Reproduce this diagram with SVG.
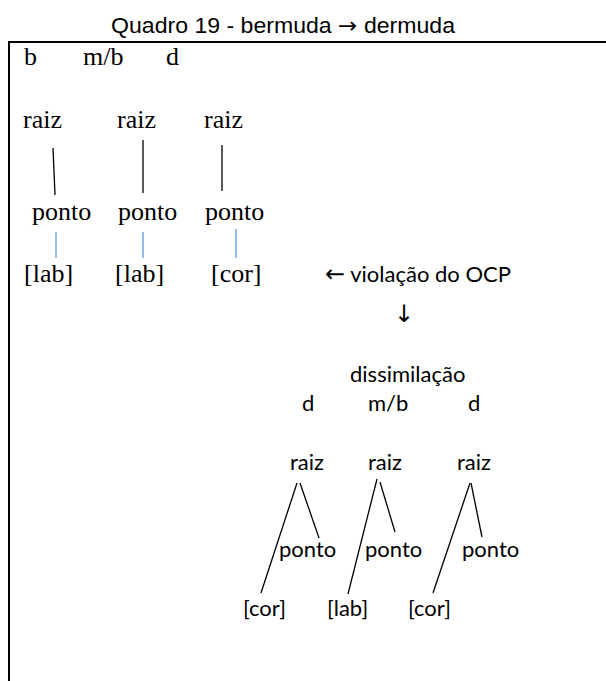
<svg xmlns="http://www.w3.org/2000/svg" width="606" height="681" viewBox="0 0 606 681">
<style>
.t{font-family:"Liberation Sans",Arial,sans-serif;font-size:22px;fill:#000}
.s{font-family:"Liberation Serif","Times New Roman",serif;font-size:26px;fill:#000}
.c{font-family:Lato,"Open Sans",sans-serif;font-size:22px;fill:#000}
.a{font-family:"DejaVu Sans",sans-serif;font-size:24px;fill:#000}
.k{stroke:#000;stroke-width:1.3;fill:none}
.b{stroke:#5b9bd5;stroke-width:1.3;fill:none}
</style>
<rect width="606" height="681" fill="#fff"/>
<text class="t" x="111" y="33" textLength="344" lengthAdjust="spacingAndGlyphs">Quadro 19 - bermuda <tspan font-family="DejaVu Sans" font-size="22">→</tspan> dermuda</text>
<path d="M9,681 V42 H606" stroke="#000" stroke-width="2" fill="none"/>
<g id="top-segments">
<text class="s" x="24" y="65">b</text>
<text class="s" x="83" y="65">m/b</text>
<text class="s" x="166" y="65">d</text>
</g>
<g id="raiz1"><text class="s" x="23" y="128">raiz</text></g>
<g id="raiz2"><text class="s" x="117" y="128">raiz</text></g>
<g id="raiz3"><text class="s" x="204" y="128">raiz</text></g>
<g id="ponto1"><text class="s" x="32" y="220">ponto</text></g>
<g id="ponto2"><text class="s" x="118" y="220">ponto</text></g>
<g id="ponto3"><text class="s" x="205" y="220">ponto</text></g>
<g id="lab1"><text class="s" x="24" y="282">[lab]</text></g>
<g id="lab2"><text class="s" x="115" y="282">[lab]</text></g>
<g id="cor3"><text class="s" x="211" y="282">[cor]</text></g>
<g id="violacao"><text class="c" x="325" y="282"><tspan class="a">←</tspan> violação do OCP</text></g>
<g id="down-arrow"><text class="a" x="404" y="322" text-anchor="middle">↓</text></g>
<g id="dissimilacao"><text class="c" x="350" y="382">dissimilação</text></g>
<g id="bottom-segments">
<text class="c" x="302" y="411">d</text>
<text class="c" x="368" y="411">m/b</text>
<text class="c" x="468" y="411">d</text>
</g>
<g id="raiz4"><text class="c" x="290" y="470">raiz</text></g>
<g id="raiz5"><text class="c" x="368" y="470">raiz</text></g>
<g id="raiz6"><text class="c" x="457" y="470">raiz</text></g>
<g id="ponto4"><text class="c" x="279" y="557">ponto</text></g>
<g id="ponto5"><text class="c" x="365" y="557">ponto</text></g>
<g id="ponto6"><text class="c" x="462" y="557">ponto</text></g>
<g id="cor4"><text class="c" x="243" y="616">[cor]</text></g>
<g id="lab5"><text class="c" x="327" y="616">[lab]</text></g>
<g id="cor6"><text class="c" x="408" y="616">[cor]</text></g>
<g id="connectors">
<line class="k" x1="53" y1="148" x2="55" y2="195"/>
<line class="k" x1="143" y1="140" x2="143" y2="193"/>
<line class="k" x1="222" y1="145" x2="222" y2="191"/>
<line class="b" x1="56" y1="232" x2="56" y2="258"/>
<line class="b" x1="143" y1="232" x2="143" y2="258"/>
<line class="b" x1="236" y1="229" x2="236" y2="258"/>
<line class="k" x1="297" y1="483" x2="261" y2="593"/>
<line class="k" x1="300" y1="483" x2="319" y2="538"/>
<line class="k" x1="377" y1="479" x2="348" y2="594"/>
<line class="k" x1="380" y1="482" x2="395" y2="532"/>
<line class="k" x1="470" y1="483" x2="433" y2="593"/>
<line class="k" x1="471" y1="483" x2="482" y2="537"/>
</g>
</svg>
